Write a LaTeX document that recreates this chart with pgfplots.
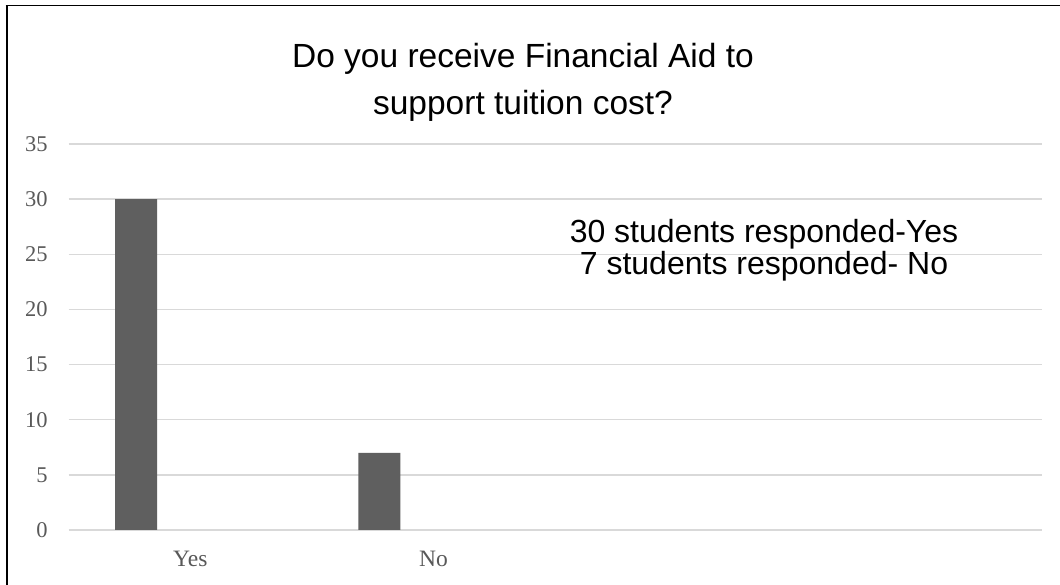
\documentclass[border=0pt]{standalone}
\usepackage{pgfplots}
\pgfplotsset{compat=1.18}
\usepackage{fontspec}
\setmainfont{Liberation Serif}
\newfontfamily\arial{Liberation Sans}
\definecolor{barc}{HTML}{5F5F5F}
\definecolor{gridc}{HTML}{D9D9D9}
\definecolor{tickc}{HTML}{595959}
\begin{document}
\begin{tikzpicture}[x=1pt,y=1pt]
\useasboundingbox (0,0) rectangle (1060,585);
\fill[white] (0,0) rectangle (1060,585);
\begin{axis}[
  at={(68.7pt,55pt)}, anchor=south west,
  width=973pt, height=386pt, scale only axis,
  xmin=-0.5, xmax=3.5, ymin=0, ymax=35,
  ytick={0,5,...,35},
  xtick={0,1}, xticklabels={Yes,No},
  axis line style={draw=none},
  major tick length=0pt,
  ymajorgrids,
  grid style={gridc, line width=1.4pt},
  /pgf/number format/assume math mode=true,
  yticklabel style={font=\fontsize{22.5}{27}\selectfont, text=tickc, anchor=east, inner sep=0pt, xshift=-21pt},
  xticklabel style={font=\fontsize{23.5}{28}\selectfont, text=tickc, anchor=base, inner sep=0pt, yshift=-37pt},
  ybar, bar width=0.1727, bar shift=-0.2232,
]
\addplot[fill=barc, draw=none] coordinates {(0,30) (1,7)};
\end{axis}
\draw[black, line width=2pt] (6.5,0) -- (6.5,579.5);
\draw[black, line width=1.6pt] (5.5,579.5) -- (1060,579.5);
\node[anchor=base, font=\arial\fontsize{33.5}{40}\selectfont] at (523,517) {Do you receive Financial Aid to};
\node[anchor=base, font=\arial\fontsize{33.5}{40}\selectfont] at (523,470) {support tuition cost?};
\node[anchor=base, font=\arial\fontsize{32}{38}\selectfont] at (764,342) {30 students responded-Yes};
\node[anchor=base, font=\arial\fontsize{32}{38}\selectfont] at (764,310) {7 students responded- No};
\end{tikzpicture}
\end{document}
